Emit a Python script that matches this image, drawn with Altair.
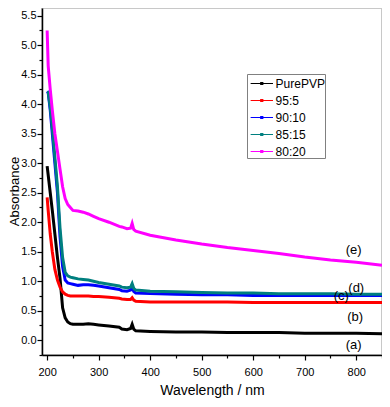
import altair as alt
import pandas as pd

wavelength = [200, 202, 206, 210, 215, 220, 225, 230, 235, 240, 245, 250, 260, 270, 280, 290, 300,
              320, 340, 345, 355, 362, 365, 368, 372, 400, 450, 500, 550, 600, 650, 700, 750, 800, 850]

pure_pvp = [2.95, 2.8, 2.5, 2.2, 1.8, 1.4, 1.05, 0.55, 0.38, 0.31, 0.28, 0.27, 0.27, 0.27, 0.28, 0.27, 0.26,
            0.24, 0.22, 0.19, 0.18, 0.2, 0.27, 0.19, 0.16, 0.15, 0.14, 0.14, 0.13, 0.13, 0.13, 0.12, 0.12, 0.12, 0.11]
r95_5 = [2.42, 2.2, 1.8, 1.5, 1.2, 1.02, 0.9, 0.82, 0.78, 0.76, 0.75, 0.75, 0.75, 0.75, 0.75, 0.74, 0.74,
         0.73, 0.71, 0.7, 0.69, 0.69, 0.72, 0.68, 0.66, 0.65, 0.65, 0.65, 0.65, 0.64, 0.64, 0.64, 0.64, 0.64, 0.64]
r90_10 = [4.22, 4.2, 3.9, 3.5, 3.0, 2.5, 1.75, 1.25, 1.02, 0.97, 0.96, 0.95, 0.93, 0.94, 0.94, 0.93, 0.92,
          0.89, 0.86, 0.84, 0.83, 0.85, 0.91, 0.83, 0.8, 0.79, 0.78, 0.77, 0.77, 0.76, 0.76, 0.76, 0.76, 0.76, 0.76]
r85_15 = [4.2, 4.2, 3.95, 3.6, 3.1, 2.6, 1.9, 1.4, 1.15, 1.09, 1.07, 1.06, 1.04, 1.03, 1.02, 1.0, 0.98,
          0.95, 0.92, 0.9, 0.89, 0.9, 0.96, 0.88, 0.85, 0.83, 0.82, 0.81, 0.8, 0.8, 0.79, 0.79, 0.79, 0.78, 0.78]
r80_20 = [5.25, 4.65, 4.25, 3.9, 3.5, 3.2, 2.9, 2.6, 2.4, 2.3, 2.25, 2.2, 2.19, 2.17, 2.14, 2.1, 2.06,
          2.0, 1.93, 1.92, 1.89, 1.9, 1.98, 1.88, 1.85, 1.78, 1.7, 1.63, 1.57, 1.52, 1.47, 1.41, 1.36, 1.32, 1.27]

series_names = ["PurePVP", "95:5", "90:10", "85:15", "80:20"]
series_colors = ["#000000", "#ff0000", "#0000ff", "#007f7f", "#ff00ff"]
series_values = [pure_pvp, r95_5, r90_10, r85_15, r80_20]

label_text = ["(a)", "(b)", "(c)", "(d)", "(e)"]
label_x = [795, 798, 771, 800, 795]
label_y = [-0.08, 0.395, 0.75, 0.89, 1.53]

x_major = [200, 300, 400, 500, 600, 700, 800]
x_minor = [250, 350, 450, 550, 650, 750, 850]
y_major = [0.0, 0.5, 1.0, 1.5, 2.0, 2.5, 3.0, 3.5, 4.0, 4.5, 5.0, 5.5]
y_minor = [-0.25, 0.25, 0.75, 1.25, 1.75, 2.25, 2.75, 3.25, 3.75, 4.25, 4.75, 5.25]

rows = []
for name, vals in zip(series_names, series_values):
    for i, (w, v) in enumerate(zip(wavelength, vals)):
        rows.append({"wl": w, "abs": v, "series": name, "idx": i})
df = pd.DataFrame(rows)
lab = pd.DataFrame({"t": label_text, "x": label_x, "y": label_y})

FONT = "Liberation Sans"
xscale = alt.Scale(domain=[190, 850], nice=False, zero=False)
yscale = alt.Scale(domain=[-0.25, 5.63], nice=False, zero=False)

lines = alt.Chart(df).mark_line(strokeWidth=3, clip=True).encode(
    x=alt.X("wl:Q", scale=xscale,
            axis=alt.Axis(values=x_major, title="Wavelength / nm", orient="bottom", grid=False,
                          tickSize=5, labelPadding=6, titlePadding=6, titleFontSize=14,
                          titleFontWeight="normal")),
    y=alt.Y("abs:Q", scale=yscale,
            axis=alt.Axis(values=y_major, format=".1f", title="Absorbance", orient="left", grid=False,
                          tickSize=5, labelPadding=1, titleX=-21, titleY=183, titleFontSize=13,
                          titleFontWeight="normal")),
    color=alt.Color("series:N", scale=alt.Scale(domain=series_names, range=series_colors),
                    sort=series_names,
                    legend=alt.Legend(title=None, orient="none", legendX=205, legendY=66,
                                      symbolType="M-0.69,0H1.94M0.5,-0.12H0.74V0.12H0.5Z",
                                      symbolSize=289, symbolStrokeWidth=1.2, rowPadding=1,
                                      labelOffset=9.6, labelFontSize=12, labelFont=FONT,
                                      padding=0, strokeColor="#808080", labelColor="#000000")),
    order="idx:Q",
)

texts = alt.Chart(lab).mark_text(font=FONT, fontSize=13, color="#000000").encode(
    x=alt.X("x:Q", scale=xscale,
            axis=alt.Axis(values=x_minor, labels=False, domain=False, title=None, orient="bottom",
                          grid=False, tickSize=3)),
    y=alt.Y("y:Q", scale=yscale,
            axis=alt.Axis(values=y_minor, labels=False, domain=False, title=None, orient="left",
                          grid=False, tickSize=3)),
    text="t:N",
)

chart = alt.layer(lines, texts).resolve_axis(x="independent", y="independent").properties(
    width=340, height=347,
    autosize=alt.AutoSizeParams(type="none"),
    padding={"left": 34, "top": 0, "right": 0, "bottom": 44},
).configure_axis(
    labelFont=FONT, titleFont=FONT, labelFontSize=11, labelColor="#000000", titleColor="#000000",
    domainColor="#000000", tickColor="#000000", domainWidth=1.5, tickWidth=1.2,
).configure_view(stroke="#c8c8c8", strokeWidth=2)

chart.save("out.html", embed_options={"renderer": "svg", "actions": False})
